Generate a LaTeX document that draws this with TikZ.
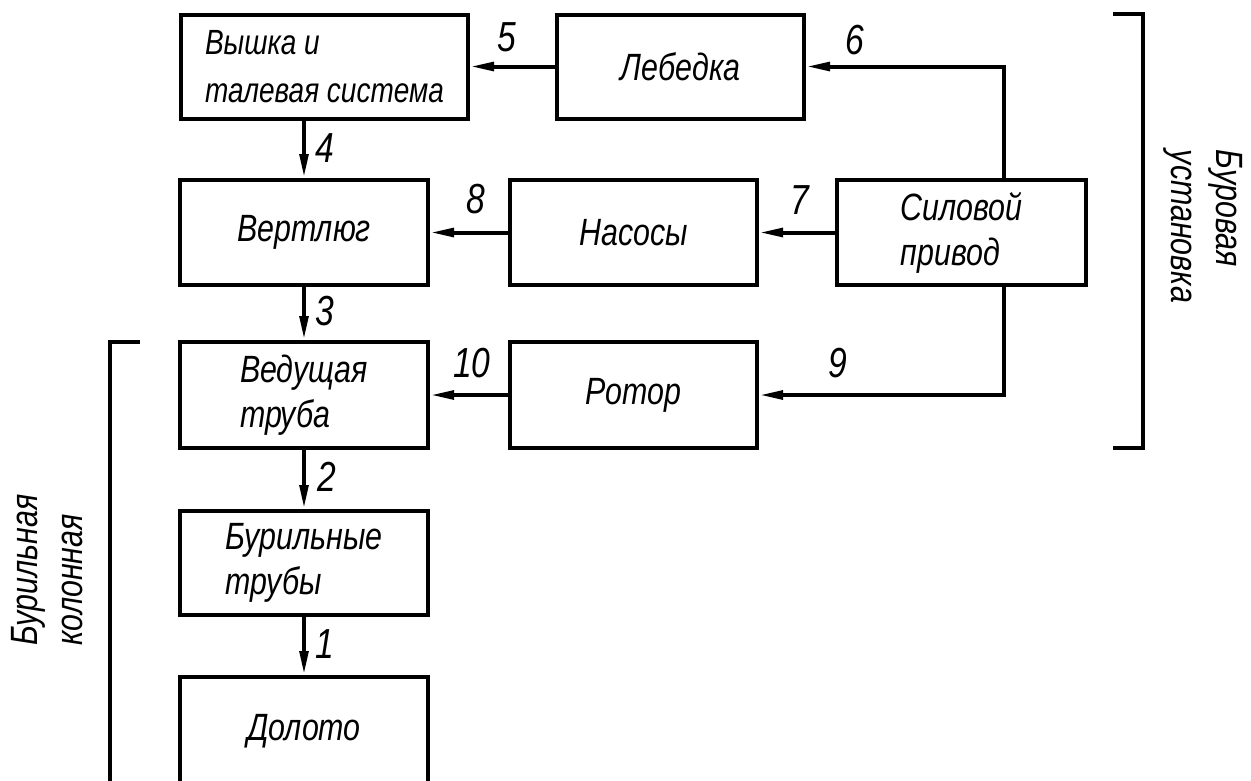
\documentclass[tikz,border=0pt]{standalone}
\usepackage{fontspec}
\newfontfamily\gost{Liberation Sans}[FakeStretch=0.8]
\usetikzlibrary{arrows.meta}
\begin{document}
\begin{tikzpicture}[x=1pt,y=-1pt,
  box/.style={draw,line width=4pt,minimum height=104pt,inner sep=0pt,
    font=\gost\itshape\fontsize{38}{45}\selectfont,align=left},
  conn/.style={line width=4pt,-{Triangle[length=24pt,width=8.5pt]}},
  plain/.style={line width=4pt},
  num/.style={font=\gost\itshape\fontsize{42}{42}\selectfont,inner sep=0pt},
  side/.style={font=\gost\itshape\fontsize{38}{45}\selectfont,align=left,inner sep=0pt}]
\useasboundingbox (0,0) rectangle (1251,780);
\clip (0,0) rectangle (1251,780);
% boxes
\node[box,minimum width=287pt,font=\gost\itshape\fontsize{35}{48}\selectfont] (vyshka) at (324.5,66.5) {Вышка и\\талевая система};
\node[box,minimum width=247pt] (lebedka) at (680.5,66.5) {Лебедка};
\node[box,minimum width=248pt,minimum height=105pt] (vertlyug) at (304,232.5) {Вертлюг};
\node[box,minimum width=247pt,minimum height=105pt] (nasosy) at (633.5,232.5) {Насосы};
\node[box,minimum width=249pt,minimum height=105pt] (silovoy) at (961.5,232.5) {Силовой\\привод};
\node[box,minimum width=248pt,minimum height=106pt] (vedush) at (304,395) {Ведущая\\труба};
\node[box,minimum width=247pt,minimum height=106pt] (rotor) at (633.5,395) {Ротор};
\node[box,minimum width=248pt] (buril) at (304,563) {Бурильные\\трубы};
\node[box,minimum width=248pt,minimum height=108pt] (doloto) at (304,731) {Долото};
% connectors
\coordinate (tap) at (1004,0);
\draw[conn] (vertlyug.north |- vyshka.south) -- (vertlyug.north);
\draw[conn] (vertlyug.south) -- (vedush.north);
\draw[conn] (vedush.south) -- (buril.north);
\draw[conn] (buril.south) -- (doloto.north);
\draw[conn] (lebedka.west) -- (vyshka.east |- lebedka.west);
\draw[conn] (silovoy.north -| tap) |- (lebedka.east);
\draw[conn] (nasosy.west) -- (vertlyug.east);
\draw[conn] (silovoy.west) -- (nasosy.east);
\draw[conn] (silovoy.south -| tap) |- (rotor.east);
\draw[conn] (rotor.west) -- (vedush.east);
% labels
\node[num] (n4) at (325,148) {4};
\node[num] (n3) at (325,311) {3};
\node[num] (n2) at (327,477) {2};
\node[num] (n1) at (325,644) {1};
\node[num] (n5) at (507,37) {5};
\node[num] (n6) at (855,40) {6};
\node[num] (n8) at (476,199) {8};
\node[num] (n7) at (800,200) {7};
\node[num] (n10) at (472,363) {10};
\node[num] (n9) at (838,363) {9};
% brackets
\draw[plain] (140,342) -- (110,342) -- (110,790);
\draw[plain] (1113,14) -- (1143,14) -- (1143,448) -- (1113,448);
\node[side,rotate=90] (lcol) at (47,570) {Бурильная\\колонная};
\node[side,rotate=-90] (rinst) at (1203,226.5) {Буровая\\установка};
\end{tikzpicture}
\end{document}
